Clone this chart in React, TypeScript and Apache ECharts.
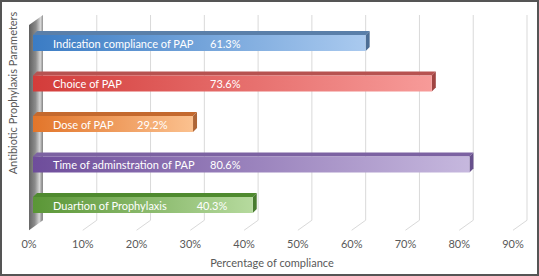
import React, { useEffect, useRef } from "react";
import * as echarts from "echarts";

const categories = [
  "Indication compliance of PAP",
  "Choice of PAP",
  "Dose of PAP",
  "Time of adminstration of PAP",
  "Duartion of Prophylaxis",
];
const values = [61.3, 73.6, 29.2, 80.6, 40.3];
const tickValues = [0, 10, 20, 30, 40, 50, 60, 70, 80, 90];
const xTitle = "Percentage of compliance";
const yTitle = "Antibiotic Prophylaxis Parameters";

const palette = [
  { l: "#3b7cc4", r: "#aacaef", top: "#5a7fa9", side: "#4d6e95" },
  { l: "#d33c3a", r: "#f79b99", top: "#b75250", side: "#a04442" },
  { l: "#e2752a", r: "#fbc18f", top: "#c4692e", side: "#ad6537" },
  { l: "#6e4d9b", r: "#c6b8de", top: "#7c62a2", side: "#67508c" },
  { l: "#5a9636", r: "#b6da9e", top: "#4f8a2f", side: "#487b2f" },
];

const FONT = "Lato, 'Open Sans', sans-serif";
const DX = 7; // half depth horizontal
const DY = 5; // half depth vertical

export default function App() {
  const ref = useRef<HTMLDivElement>(null);
  useEffect(() => {
    if (!ref.current) return;
    const chart = echarts.init(ref.current, null, { renderer: "svg" });
    const option: any = {
      animation: false,
      backgroundColor: "#ffffff",
      grid: { left: 36, right: 19, top: 22.75, bottom: 50.75, containLabel: false },
      xAxis: {
        type: "value",
        min: 0,
        max: 90,
        interval: 10,
        axisLine: { show: false },
        axisTick: { show: false },
        splitLine: { show: false },
        axisLabel: {
          formatter: "{value}%",
          color: "#595959",
          fontFamily: FONT,
          fontSize: 11,
          margin: 13,
          padding: [0, 14, 0, 0],
        },
        name: xTitle,
        nameLocation: "middle",
        nameGap: 32,
        nameTextStyle: {
          color: "#595959",
          fontFamily: FONT,
          fontSize: 11,
          padding: [0, 12, 0, 0],
        },
      },
      yAxis: {
        type: "category",
        data: categories,
        inverse: true,
        axisLine: { show: false },
        axisTick: { show: false },
        axisLabel: { show: false },
        splitLine: { show: false },
      },
      graphic: [
        {
          type: "text",
          x: 12,
          y: 93,
          rotation: Math.PI / 2,
          style: {
            text: yTitle,
            fill: "#595959",
            font: `11px ${FONT}`,
            align: "center",
            verticalAlign: "middle",
          },
        },
        {
          type: "rect",
          z: 100,
          shape: { x: 1, y: 1, width: 537, height: 274 },
          style: { fill: "none", stroke: "#555555", lineWidth: 2 },
        },
      ],
      series: [
        {
          type: "custom",
          z: 1,
          silent: true,
          data: tickValues.map((v) => [v, 0]),
          encode: { x: 0, y: 1 },
          renderItem: (params: any, api: any) => {
            const v = api.value(0);
            const cs = params.coordSys;
            const x = api.coord([v, 0])[0];
            const top = cs.y - 7.75;
            const bb = cs.y + cs.height - DY;
            const bf = cs.y + cs.height + DY;
            if (v === 0) {
              return {
                type: "polygon",
                shape: {
                  points: [
                    [x + DX, top],
                    [x + DX, bb],
                    [x - DX, bf],
                    [x - DX, top + 2 * DY],
                  ],
                },
                style: {
                  fill: new echarts.graphic.LinearGradient(0, 0, 1, 0.1, [
                    { offset: 0, color: "#5e5e5e" },
                    { offset: 0.5, color: "#8c8c8c" },
                    { offset: 0.82, color: "#d6d6d6" },
                    { offset: 1, color: "#8e8e8e" },
                  ]),
                },
              };
            }
            return {
              type: "polyline",
              shape: {
                points: [
                  [x + DX, top],
                  [x + DX, bb],
                  [x - DX, bf],
                ],
              },
              style: { stroke: "#d9d9d9", lineWidth: 1, fill: "none" },
            };
          },
        },
        {
          type: "custom",
          z: 2,
          data: values.map((v, i) => [v, i]),
          encode: { x: 0, y: 1 },
          renderItem: (params: any, api: any) => {
            const v = api.value(0);
            const idx = api.value(1);
            const [xEnd, yc] = api.coord([v, idx]);
            const x0 = api.coord([0, idx])[0] - 3;
            const h = 16;
            const top = yc - h / 2;
            const bot = yc + h / 2;
            const d = 4;
            const c = palette[idx % palette.length];
            const nameX = x0 + 20;
            const valX = Math.min(nameX + 157, xEnd - 56);
            return {
              type: "group",
              children: [
                {
                  type: "polygon",
                  shape: {
                    points: [
                      [x0, top],
                      [xEnd, top],
                      [xEnd + d, top - d],
                      [x0 + d, top - d],
                    ],
                  },
                  style: { fill: c.top },
                },
                {
                  type: "polygon",
                  shape: {
                    points: [
                      [xEnd, top],
                      [xEnd + d, top - d],
                      [xEnd + d, bot - d],
                      [xEnd, bot],
                    ],
                  },
                  style: { fill: c.side },
                },
                {
                  type: "rect",
                  shape: { x: x0, y: top, width: xEnd - x0, height: h },
                  style: {
                    fill: new echarts.graphic.LinearGradient(0, 0, 1, 0, [
                      { offset: 0, color: c.l },
                      { offset: 1, color: c.r },
                    ]),
                  },
                },
                {
                  type: "text",
                  style: {
                    x: nameX,
                    y: yc,
                    text: categories[idx],
                    fill: "#ffffff",
                    font: `11px ${FONT}`,
                    verticalAlign: "middle",
                    align: "left",
                  },
                },
                {
                  type: "text",
                  style: {
                    x: valX,
                    y: yc,
                    text: `${v.toFixed(1)}%`,
                    fill: "#ffffff",
                    font: `11px ${FONT}`,
                    verticalAlign: "middle",
                    align: "left",
                  },
                },
              ],
            };
          },
        },
      ],
    };
    chart.setOption(option);
    return () => chart.dispose();
  }, []);
  return (
    <div
      ref={ref}
      style={{ position: "fixed", left: 0, top: 0, width: 539, height: 276 }}
    />
  );
}
